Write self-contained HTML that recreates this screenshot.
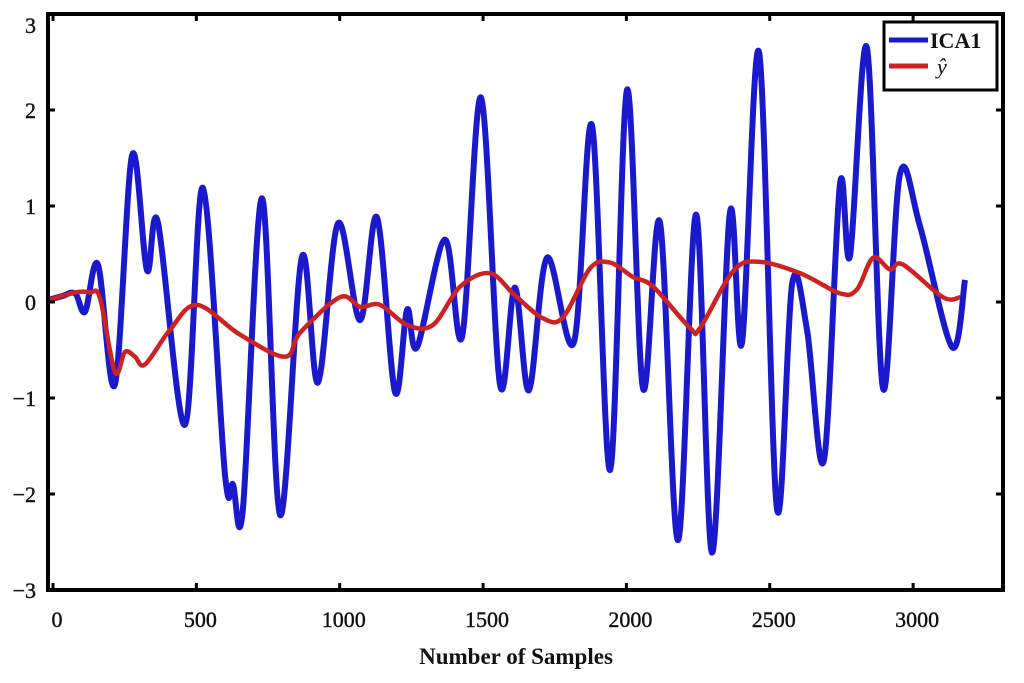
<!DOCTYPE html>
<html><head><meta charset="utf-8"><style>
html,body{margin:0;padding:0;background:#fff;width:1024px;height:683px;overflow:hidden}
svg{display:block}
text{font-family:"Liberation Serif",serif;fill:#111}
</style></head><body>
<svg id="chart" width="1024" height="683" viewBox="0 0 1024 683" xmlns="http://www.w3.org/2000/svg">
<g id="plot"></g>
<g id="axes"></g>
<text x="516" y="664" text-anchor="middle" font-size="23" font-weight="bold">Number of Samples</text>
<g>
<rect x="884" y="22" width="113" height="68" fill="#fff" stroke="#000" stroke-width="3"/>
<g>
<line x1="889" y1="40" x2="928" y2="40" stroke="#1a1acc" stroke-width="5"/>
<text x="930" y="48" font-size="22" font-weight="bold">ICA1</text>
</g>
<g>
<line x1="889" y1="66" x2="928" y2="66" stroke="#cc2222" stroke-width="5"/>
<text x="937" y="74" font-size="22" font-style="italic" fill="#555">ŷ</text>
</g>
</g>
</svg>
<script>
const icaX=[-17,31,77,112,157,216,276,328,366,460,523,600,628,662,729,792,868,924,994,1071,1130,1193,1235,1270,1367,1427,1493,1559,1611,1660,1723,1817,1880,1943,2002,2058,2117,2180,2243,2299,2361,2403,2463,2525,2578,2630,2689,2745,2780,2839,2895,2954,3024,3136,3181];
const icaY=[0.02,0.06,0.09,-0.10,0.39,-0.86,1.53,0.33,0.83,-1.28,1.19,-1.80,-1.90,-2.17,1.08,-2.22,0.47,-0.84,0.82,-0.19,0.88,-0.94,-0.08,-0.47,0.65,-0.36,2.13,-0.86,0.15,-0.92,0.46,-0.42,1.84,-1.75,2.21,-0.90,0.83,-2.48,0.91,-2.61,0.93,-0.43,2.6,-2.15,0.19,-0.29,-1.65,1.23,0.48,2.65,-0.9,1.33,0.79,-0.47,0.23];
const yhatX=[-17,77,129,164,216,251,286,321,408,502,652,809,862,1001,1071,1141,1235,1325,1420,1524,1611,1709,1779,1873,1943,2023,2093,2222,2257,2372,2459,2606,2745,2804,2860,2919,2965,3104,3164];
const yhatY=[0.02,0.10,0.10,0.04,-0.73,-0.52,-0.57,-0.65,-0.29,-0.03,-0.34,-0.57,-0.32,0.05,-0.05,-0.03,-0.24,-0.24,0.16,0.30,0.07,-0.17,-0.16,0.35,0.41,0.26,0.16,-0.27,-0.27,0.32,0.42,0.30,0.09,0.13,0.46,0.34,0.39,0.05,0.05];
const xTicks=[0,500,1000,1500,2000,2500,3000];
const yTicks=[-3,-2,-1,0,1,2,3];
const xTickLabels=["0","500","1000","1500","2000","2500","3000"];
const yTickLabels=["\u22123","\u22122","\u22121","0","1","2","3"];

const L=48,R=1003,T=14,B=590,X0=53,XS=0.2867;
const sx=v=>X0+v*XS;
const sy=v=>302-v*96;
const NS="http://www.w3.org/2000/svg";
function path(xs,ys){
  const p=xs.map((x,i)=>[sx(x),sy(ys[i])]);
  let d="M"+p[0][0]+","+p[0][1];
  for(let i=0;i<p.length-1;i++){
    const p0=p[Math.max(i-1,0)],p1=p[i],p2=p[i+1],p3=p[Math.min(i+2,p.length-1)];
    const c1x=p1[0]+(p2[0]-p0[0])/6,c1y=p1[1]+(p2[1]-p0[1])/6;
    const c2x=p2[0]-(p3[0]-p1[0])/6,c2y=p2[1]-(p3[1]-p1[1])/6;
    d+=" C"+c1x.toFixed(1)+","+c1y.toFixed(1)+" "+c2x.toFixed(1)+","+c2y.toFixed(1)+" "+p2[0].toFixed(1)+","+p2[1].toFixed(1);
  }
  return d;
}
const plot=document.getElementById('plot');
const b=document.createElementNS(NS,'path');
b.setAttribute('d',path(icaX,icaY));
b.setAttribute('fill','none');b.setAttribute('stroke','#1a1acc');b.setAttribute('stroke-width','6');b.setAttribute('stroke-linejoin','round');


plot.appendChild(b);
const r=document.createElementNS(NS,'path');
r.setAttribute('d',path(yhatX,yhatY));
r.setAttribute('fill','none');r.setAttribute('stroke','#cc2222');r.setAttribute('stroke-width','4.5');r.setAttribute('stroke-linejoin','round');


plot.appendChild(r);

const axes=document.getElementById('axes');
const frame=document.createElementNS(NS,'rect');
frame.setAttribute('x',L);frame.setAttribute('y',T);frame.setAttribute('width',R-L);frame.setAttribute('height',B-T);
frame.setAttribute('fill','none');frame.setAttribute('stroke','#000');frame.setAttribute('stroke-width','4');


axes.appendChild(frame);
xTicks.forEach((v,i)=>{
  const x=sx(v);
  [[B,B-7],[T,T+7]].forEach(([a,c])=>{
    const l=document.createElementNS(NS,'line');
    l.setAttribute('x1',x);l.setAttribute('x2',x);l.setAttribute('y1',a);l.setAttribute('y2',c);
    l.setAttribute('stroke','#000');l.setAttribute('stroke-width','3');
    
    
    axes.appendChild(l);
  });
  const t=document.createElementNS(NS,'text');
  t.setAttribute('x',x+4);t.setAttribute('y',627);t.setAttribute('text-anchor','middle');t.setAttribute('font-size','22');
  t.setAttribute('stroke','#111');t.setAttribute('stroke-width','0.4');
  t.textContent=xTickLabels[i];
  
  
  axes.appendChild(t);
});
yTicks.forEach((v,i)=>{
  const y=sy(v);
  [[L,L+7],[R,R-7]].forEach(([a,c])=>{
    const l=document.createElementNS(NS,'line');
    l.setAttribute('x1',a);l.setAttribute('x2',c);l.setAttribute('y1',y);l.setAttribute('y2',y);
    l.setAttribute('stroke','#000');l.setAttribute('stroke-width','3');
    
    
    axes.appendChild(l);
  });
  const t=document.createElementNS(NS,'text');
  t.setAttribute('x',36);t.setAttribute('y',Math.min(Math.max(y+8,33),598));t.setAttribute('text-anchor','end');t.setAttribute('font-size','22');
  t.setAttribute('stroke','#111');t.setAttribute('stroke-width','0.4');
  t.textContent=yTickLabels[i];
  
  
  axes.appendChild(t);
});
</script>
</body></html>
